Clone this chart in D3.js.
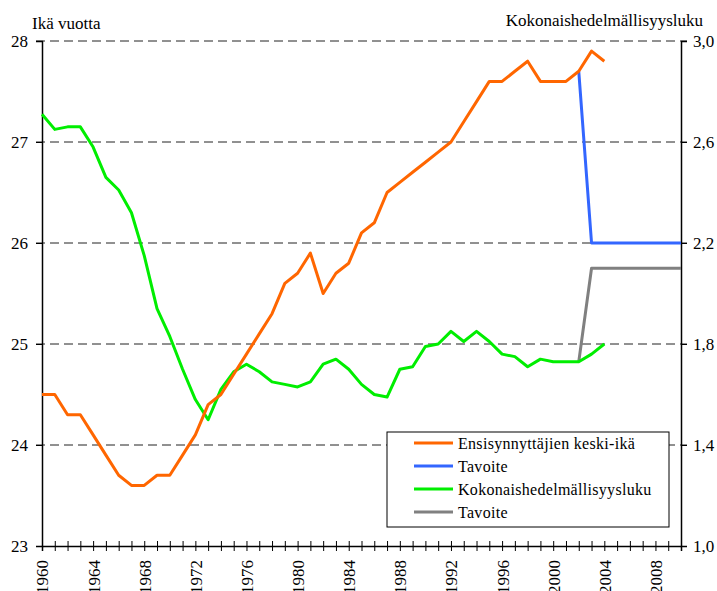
<!DOCTYPE html>
<html>
<head>
<meta charset="utf-8">
<script src="https://cdn.jsdelivr.net/npm/d3@7"></script>
<style>
  body { margin: 0; background: #fff; }
</style>
</head>
<body>
<svg id="chart" width="717" height="591"></svg>
<script>
// data
var years = d3.range(1960, 2005);
var firstBirthAge = [24.5, 24.5, 24.3, 24.3, 24.1, 23.9, 23.7, 23.6, 23.6, 23.7,
  23.7, 23.9, 24.1, 24.4, 24.5, 24.7, 24.9, 25.1, 25.3, 25.6,
  25.7, 25.9, 25.5, 25.7, 25.8, 26.1, 26.2, 26.5, 26.6, 26.7,
  26.8, 26.9, 27.0, 27.2, 27.4, 27.6, 27.6, 27.7, 27.8, 27.6,
  27.6, 27.6, 27.7, 27.9, 27.8];
var fertility = [2.71, 2.65, 2.66, 2.66, 2.58, 2.46, 2.41, 2.32, 2.15, 1.94,
  1.83, 1.70, 1.58, 1.50, 1.62, 1.69, 1.72, 1.69, 1.65, 1.64,
  1.63, 1.65, 1.72, 1.74, 1.70, 1.64, 1.60, 1.59, 1.70, 1.71,
  1.79, 1.80, 1.85, 1.81, 1.85, 1.81, 1.76, 1.75, 1.71, 1.74,
  1.73, 1.73, 1.73, 1.76, 1.80];
var targetYears = d3.range(2002, 2011);
var targetAge = [27.7, 26.0, 26.0, 26.0, 26.0, 26.0, 26.0, 26.0, 26.0];
var targetFertility = [1.73, 2.1, 2.1, 2.1, 2.1, 2.1, 2.1, 2.1, 2.1];
var leftTicks = [23, 24, 25, 26, 27, 28];
var rightTicks = [1.0, 1.4, 1.8, 2.2, 2.6, 3.0];
var legendLabels = ["Ensisynnyttäjien keski-ikä", "Tavoite", "Kokonaishedelmällisyysluku", "Tavoite"];
var colors = ["#ff6600", "#3366ff", "#00ee00", "#808080"];

var plotLeft = 42, plotRight = 681, plotTop = 41, plotBottom = 546;
var FONT = "Liberation Serif";
var svg = d3.select("#chart");

var x = d3.scaleLinear().domain([1960, 2010]).range([plotLeft, plotRight]);
var yL = d3.scaleLinear().domain([23, 28]).range([plotBottom, plotTop]);
var yR = d3.scaleLinear().domain([1.0, 3.0]).range([plotBottom, plotTop]);

// dashed gridlines
svg.append("g").selectAll("line")
  .data(leftTicks.slice(1))
  .enter().append("line")
  .attr("x1", plotLeft - 6).attr("x2", plotRight + 6)
  .attr("y1", function(d){ return yL(d); })
  .attr("y2", function(d){ return yL(d); })
  .attr("stroke", "#222")
  .attr("stroke-width", 1)
  .attr("stroke-dasharray", "9,5");

function styleAxis(g, size) {
  g.attr("font-family", FONT).attr("font-size", size);
  g.select(".domain").attr("stroke", "#000").attr("stroke-width", 1.5);
  g.selectAll(".tick line").attr("stroke", "#000");
  g.selectAll("text").attr("fill", "#000");
}

// left axis
var gl = svg.append("g").attr("transform", "translate(" + plotLeft + ",0)")
  .call(d3.axisLeft(yL).tickValues(leftTicks).tickSize(6).tickPadding(8).tickFormat(d3.format("d")));
styleAxis(gl, 17);

// right axis
var gr = svg.append("g").attr("transform", "translate(" + plotRight + ",0)")
  .call(d3.axisRight(yR).tickValues(rightTicks).tickSize(6).tickPadding(6)
    .tickFormat(function(d){ return d.toFixed(1).replace(".", ","); }));
styleAxis(gr, 17);

// bottom axis, cross ticks every year, labels every 4 years
var gx = svg.append("g").attr("transform", "translate(0," + plotBottom + ")")
  .call(d3.axisBottom(x).tickValues(d3.range(1960, 2011)).tickSizeOuter(0)
    .tickSize(5).tickFormat(function(d){ return (d - 1960) % 4 === 0 ? d : ""; }));
styleAxis(gx, 17);
gx.selectAll(".tick line").attr("y1", -5).attr("y2", 5);
gx.selectAll("text")
  .attr("text-anchor", "end")
  .attr("transform", "rotate(-90)")
  .attr("x", -14).attr("y", 0).attr("dy", "0.35em");

// axis titles
svg.append("text").attr("x", 32).attr("y", 29)
  .attr("font-family", FONT).attr("font-size", 17).text("Ikä vuotta");
svg.append("text").attr("x", 703).attr("y", 26).attr("text-anchor", "end")
  .attr("font-family", FONT).attr("font-size", 17)
  .text("Kokonaishedelmällisyysluku");

function drawLine(xs, ys, yScale, color) {
  var pts = xs.map(function(d, i){ return [d, ys[i]]; });
  svg.append("path")
    .datum(pts)
    .attr("fill", "none")
    .attr("stroke", color)
    .attr("stroke-width", 3)
    .attr("stroke-linejoin", "round")
    .attr("d", d3.line().x(function(d){ return x(d[0]); }).y(function(d){ return yScale(d[1]); }));
}

drawLine(targetYears, targetAge, yL, colors[1]);
drawLine(targetYears, targetFertility, yR, colors[3]);
drawLine(years, fertility, yR, colors[2]);
drawLine(years, firstBirthAge, yL, colors[0]);

// legend
var lg = svg.append("g").attr("transform", "translate(387,432)");
lg.append("rect").attr("width", 282).attr("height", 95)
  .attr("fill", "#fff").attr("stroke", "#000").attr("stroke-width", 1);
legendLabels.forEach(function(lab, i){
  var yy = 11 + i * 23;
  lg.append("line").attr("x1", 27).attr("x2", 66).attr("y1", yy).attr("y2", yy)
    .attr("stroke", colors[i]).attr("stroke-width", 3);
  lg.append("text").attr("x", 71).attr("y", yy).attr("dy", "0.35em")
    .attr("font-family", FONT).attr("font-size", 16).style("letter-spacing", "0.3px")
    .text(lab);
});
</script>
</body>
</html>
